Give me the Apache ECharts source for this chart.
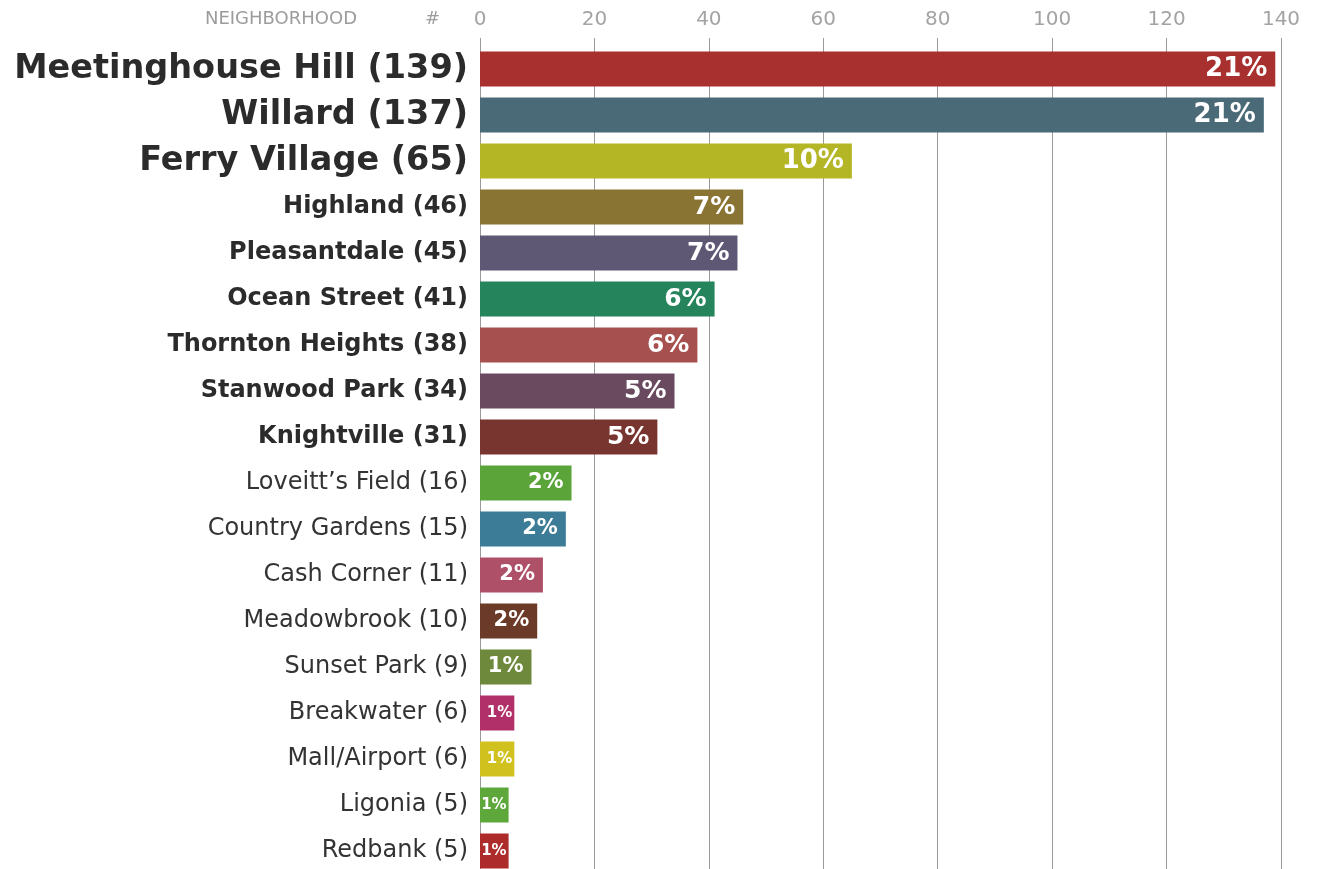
<!DOCTYPE html>
<html>
<head>
<meta charset="utf-8">
<script src="https://cdn.jsdelivr.net/npm/echarts@6/dist/echarts.min.js"></script>
<style>
  html, body { margin: 0; padding: 0; background: #fff; overflow: hidden; }
  #chart { width: 1317px; height: 874px; }
</style>
</head>
<body>
<div id="chart"></div>
<script>
// neighborhoods, counts and share labels as printed
const neighborhoods = [
  "Meetinghouse Hill", "Willard", "Ferry Village", "Highland", "Pleasantdale",
  "Ocean Street", "Thornton Heights", "Stanwood Park", "Knightville",
  "Loveitt\u2019s Field", "Country Gardens", "Cash Corner", "Meadowbrook",
  "Sunset Park", "Breakwater", "Mall/Airport", "Ligonia", "Redbank"
];
const counts = [139, 137, 65, 46, 45, 41, 38, 34, 31, 16, 15, 11, 10, 9, 6, 6, 5, 5];
const shares = [21, 21, 10, 7, 7, 6, 6, 5, 5, 2, 2, 2, 2, 1, 1, 1, 1, 1];
const xTicks = [0, 20, 40, 60, 80, 100, 120, 140];

const barColors = [
  "#a8302f", "#4b6a77", "#b5b626", "#8a7434", "#5e5874",
  "#25845b", "#a6504f", "#6a4a5f", "#78342f",
  "#5aa43a", "#3d7c97", "#ae5168", "#6c3a29",
  "#6e893b", "#b2306a", "#d1c11e", "#5ea73b", "#ae2b2b"
];

const chart = echarts.init(document.getElementById("chart"));

// label size tiers: big top three, bold middle, regular rest
const tier = i => (i < 3 ? "a" : i < 9 ? "b" : "c");
const pctSize = (i, v) => (i < 3 ? 26 : i < 9 ? 25 : v >= 9 ? 21 : 15);

const option = {
  backgroundColor: "#fff",
  animation: false,
  grid: { left: 480, right: 36, top: 46, bottom: 0 },
  graphic: [
    {
      type: "text", right: 1317 - 357, top: 10,
      style: { text: "NEIGHBORHOOD", fontFamily: "DejaVu Sans", fontSize: 18, fill: "#9c9c9c" }
    },
    {
      type: "text", left: 425, top: 10,
      style: { text: "#", fontFamily: "DejaVu Sans", fontSize: 18, fill: "#9c9c9c" }
    }
  ],
  xAxis: {
    type: "value",
    position: "top",
    min: xTicks[0],
    max: xTicks[xTicks.length - 1],
    interval: xTicks[1] - xTicks[0],
    axisLine: { show: false },
    axisTick: { show: true, length: 8, lineStyle: { color: "#9a9a9a", width: 1 } },
    axisLabel: {
      margin: 16,
      color: "#a3a3a3",
      fontFamily: "DejaVu Sans",
      fontSize: 20
    },
    splitLine: { show: true, lineStyle: { color: "#9a9a9a", width: 1 } }
  },
  yAxis: {
    type: "category",
    inverse: true,
    data: neighborhoods,
    axisLine: { show: true, lineStyle: { color: "#9a9a9a", width: 1 } },
    axisTick: { show: false },
    axisLabel: {
      margin: 12,
      formatter: (v, i) => "{" + tier(i) + "|" + v + " (" + counts[i] + ")}",
      rich: {
        a: { fontFamily: "DejaVu Sans", fontWeight: "bold", fontSize: 33.5, color: "#2b2b2b" },
        b: { fontFamily: "DejaVu Sans", fontWeight: "bold", fontSize: 24, color: "#2b2b2b" },
        c: { fontFamily: "DejaVu Sans", fontSize: 24, color: "#333" }
      }
    }
  },
  series: [{
    type: "bar",
    barWidth: 35,
    data: counts.map((v, i) => ({
      value: v,
      itemStyle: { color: barColors[i] },
      label: {
        fontSize: pctSize(i, v),
        distance: v >= 9 ? 8 : 2
      }
    })),
    label: {
      show: true,
      position: "insideRight",
      color: "#fff",
      fontFamily: "DejaVu Sans",
      fontWeight: "bold",
      formatter: p => shares[p.dataIndex] + "%"
    }
  }]
};

chart.setOption(option);
</script>
</body>
</html>
